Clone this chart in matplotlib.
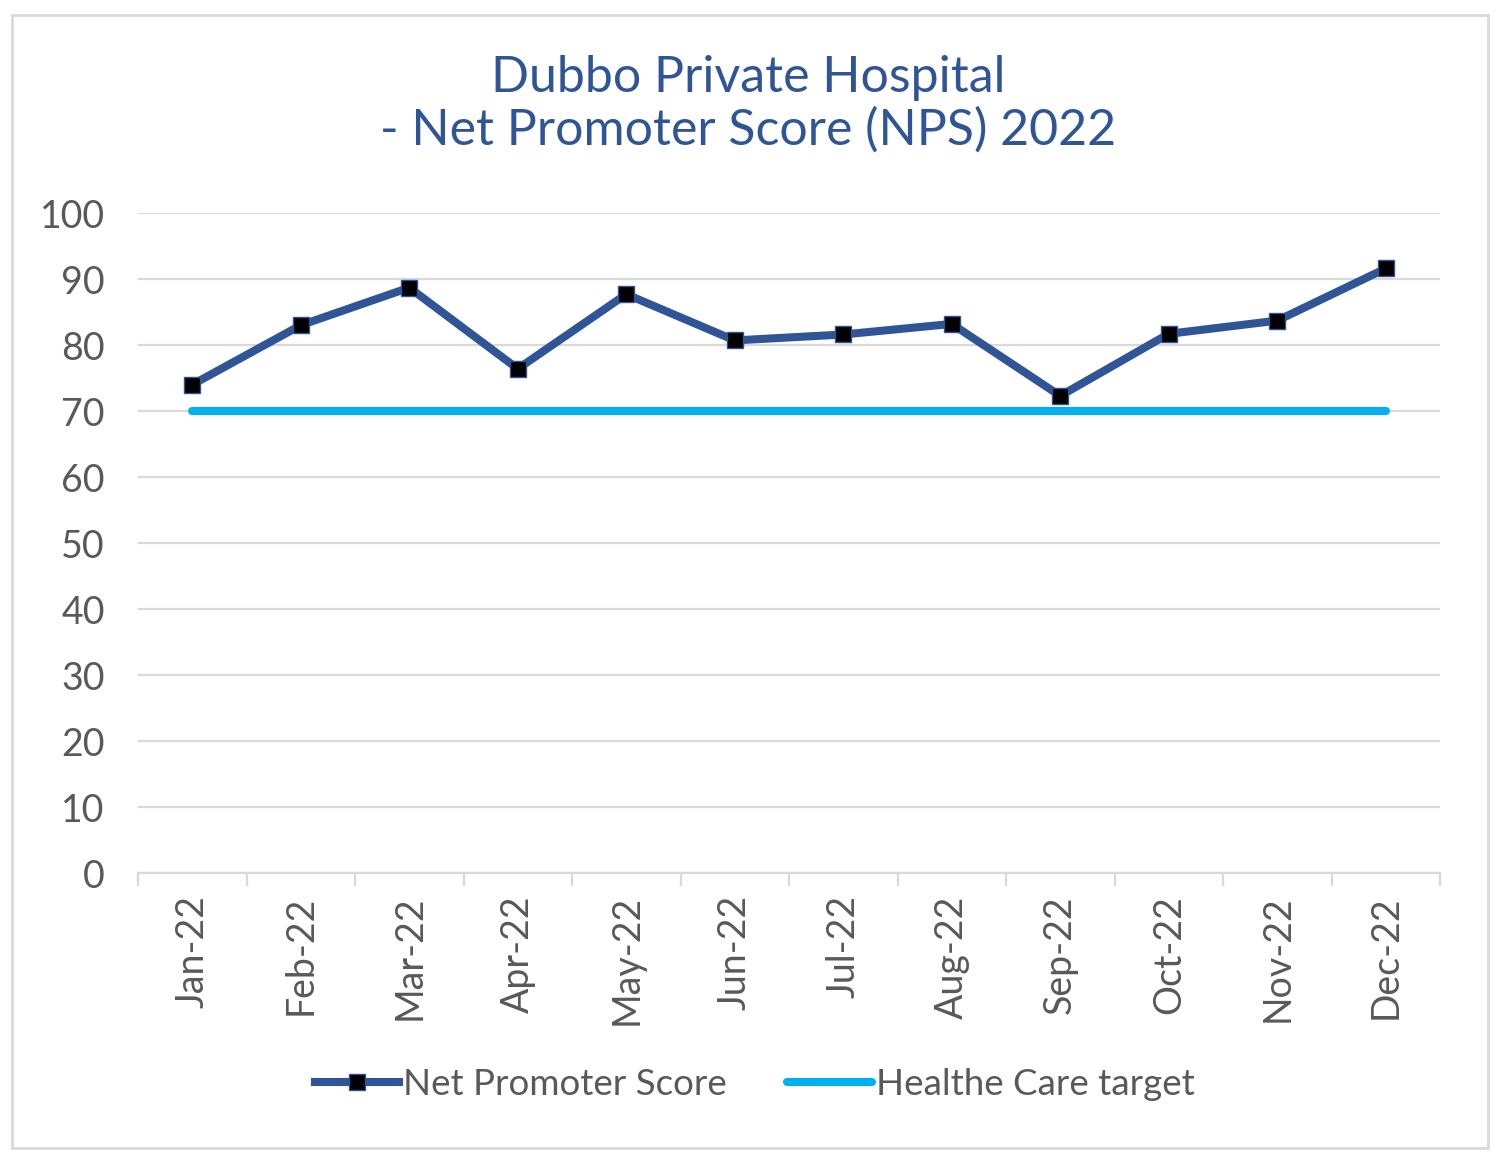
import matplotlib
matplotlib.use("Agg")
import matplotlib.pyplot as plt
from matplotlib.patches import Rectangle

# data
months = ["Jan-22", "Feb-22", "Mar-22", "Apr-22", "May-22", "Jun-22",
          "Jul-22", "Aug-22", "Sep-22", "Oct-22", "Nov-22", "Dec-22"]
nps = [74.0, 83.0, 88.7, 76.4, 87.7, 80.7, 81.6, 83.2, 72.3, 81.7, 83.7, 91.6]
target = [70] * 12

plt.rcParams['font.family'] = ['Lato', 'DejaVu Sans']

fig = plt.figure(figsize=(15, 11.56), dpi=100)
ax = fig.add_axes([0.092, 0.2448, 0.868, 0.5709])

# outer chart border
fig.patches.append(Rectangle((0.008, 0.007), 0.984, 0.98, transform=fig.transFigure,
                             fill=False, edgecolor='#D9D9D9', linewidth=2))

x = range(len(months))
ax.plot(x, nps, color='#2F5597', linewidth=5.8, marker='s', markersize=12,
        markerfacecolor='black', markeredgecolor='#2F5597', markeredgewidth=1,
        label='Net Promoter Score', zorder=4)
ax.plot(x, target, color='#00B0F0', linewidth=5.8, solid_capstyle='round',
        label='Healthe Care target', zorder=3)

ax.set_xlim(-0.5, len(months) - 0.5)
ax.set_ylim(0, 100)
ax.set_yticks(range(0, 101, 10))
ax.yaxis.grid(True, color='#D9D9D9', linewidth=1.6)
ax.set_axisbelow(True)

for s in ['top', 'right', 'left']:
    ax.spines[s].set_visible(False)
ax.spines['bottom'].set_color('#D9D9D9')
ax.spines['bottom'].set_linewidth(1.6)

ax.set_xticks([i + 0.5 for i in range(-1, len(months))], minor=False)
ax.set_xticklabels([])
ax.tick_params(axis='x', which='major', length=9, color='#D9D9D9', width=1.6)
ax.set_xticks(list(x), minor=True)
ax.set_xticklabels(months, minor=True, rotation=90, fontsize=27, color='#595959')
ax.tick_params(axis='x', which='minor', length=0, pad=16)
ax.tick_params(axis='y', length=0, labelsize=27, labelcolor='#595959', pad=24)

fig.text(0.499, 0.91, 'Dubbo Private Hospital\n- Net Promoter Score (NPS) 2022',
         ha='center', va='center', fontsize=36, color='#2F5597', linespacing=1.15)

fig.legend(loc='center', bbox_to_anchor=(0.503, 0.062), ncol=2, frameon=False,
           fontsize=26.5, labelcolor='#595959', handlelength=2.3, handletextpad=0.1,
           columnspacing=1.65)

fig.savefig('out.png', dpi=100)
